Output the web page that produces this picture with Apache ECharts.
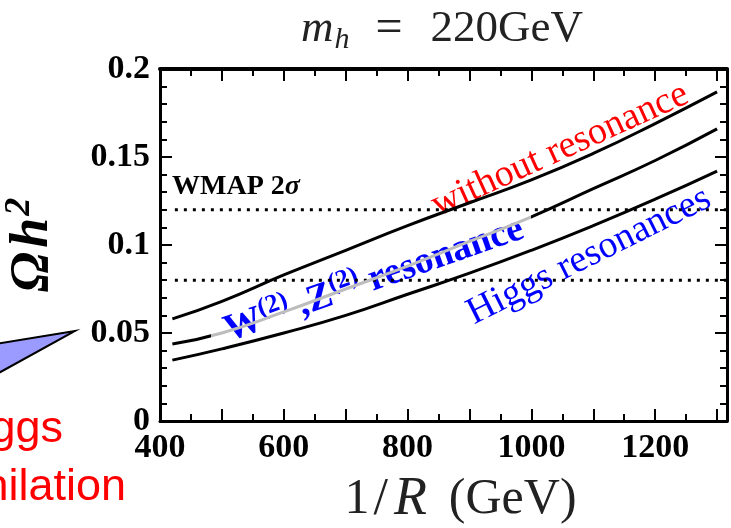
<!DOCTYPE html>
<html>
<head>
<meta charset="utf-8">
<script src="https://cdn.jsdelivr.net/npm/echarts@6/dist/echarts.min.js"></script>
<style>html,body{margin:0;padding:0;background:#fff;}#c{width:731px;height:528px;}</style>
</head>
<body>
<div id="c"></div>
<script>
// ---- data ----
const xValues = [420, 500, 600, 700, 800, 900, 1000, 1100, 1200, 1300];
const withoutResonance = [0.058, 0.068, 0.083, 0.097, 0.111, 0.124, 0.137, 0.152, 0.169, 0.187];
const wzResonance = [0.0437, 0.050, 0.062, 0.075, 0.088, 0.102, 0.116, 0.132, 0.148, 0.166];
const higgsResonances = [0.0346, 0.041, 0.050, 0.060, 0.072, 0.084, 0.097, 0.111, 0.126, 0.142];
const wmapBounds = [0.08, 0.12];
const wmapRange = [424, 1316];
const xTickLabels = [400, 600, 800, 1000, 1200];
const yTickLabels = [0, 0.05, 0.1, 0.15, 0.2];

const serif = '"Liberation Serif", "DejaVu Serif", serif';
const sans = '"Liberation Sans", Arial, sans-serif';

function pairs(ys) { return xValues.map((x, i) => [x, ys[i]]); }

const chart = echarts.init(document.getElementById('c'), null, {renderer: 'canvas'});

const axisCommon = {
  type: 'value',
  axisLine: {show: true, onZero: false, lineStyle: {color: '#000', width: 3}},
  splitLine: {show: false},
  axisTick: {show: true, inside: true, length: 12, lineStyle: {color: '#000', width: 2}},
  minorTick: {show: true, length: 7, lineStyle: {color: '#000', width: 2}},
};

const option = {
  animation: false,
  backgroundColor: '#fff',
  title: {
    text: '{m|m}{s|h}{e|=}{r|220GeV}',
    left: 296, top: -2,
    textStyle: {
      fontWeight: 'normal',
      rich: {
        m: {fontFamily: serif, fontStyle: 'italic', fontWeight: 'normal', fontSize: 45, color: '#222'},
        s: {fontFamily: serif, fontStyle: 'italic', fontWeight: 'normal', fontSize: 30, color: '#222', padding: [22, 18, 0, 1]},
        e: {fontFamily: serif, fontWeight: 'normal', fontSize: 48, color: '#222', padding: [0, 28, 0, 8]},
        r: {fontFamily: serif, fontWeight: 'normal', fontSize: 45, color: '#222'}
      }
    }
  },
  grid: {left: 160, right: 4, top: 69, bottom: 107, containLabel: false, outerBoundsMode: 'none'},
  xAxis: [
    Object.assign({}, axisCommon, {
      position: 'bottom', min: 400, max: 1316, interval: 100,
      minorTick: Object.assign({}, axisCommon.minorTick, {splitNumber: 2}),
      axisLabel: {
        show: true, margin: 10, color: '#000', fontFamily: serif, fontWeight: 'bold', fontSize: 34,
        showMaxLabel: false,
        formatter: v => xTickLabels.indexOf(v) >= 0 ? String(v) : ''
      },
      name: '{o|1}{s|/}{i|R}{a|(GeV)}',
      nameLocation: 'middle', nameGap: 52,
      nameTextStyle: {
        rich: {
          o: {fontFamily: serif, fontSize: 50, color: '#222', padding: [0, 0, 0, 34]},
          s: {fontFamily: serif, fontSize: 52, color: '#222', padding: [0, 6, 0, 4]},
          i: {fontFamily: serif, fontSize: 54, fontStyle: 'italic', color: '#222', padding: [0, 22, 0, 0]},
          a: {fontFamily: serif, fontSize: 50, color: '#222'}
        }
      }
    }),
    Object.assign({}, axisCommon, {
      position: 'top', min: 400, max: 1316, interval: 100,
      axisLine: {show: true, onZero: false, lineStyle: {color: '#000', width: 4}},
      minorTick: Object.assign({}, axisCommon.minorTick, {splitNumber: 2}),
      axisLabel: {show: false}
    })
  ],
  yAxis: [
    Object.assign({}, axisCommon, {
      position: 'left', min: 0, max: 0.2, interval: 0.05,
      minorTick: Object.assign({}, axisCommon.minorTick, {splitNumber: 5}),
      axisLabel: {
        show: true, margin: 10, color: '#000', fontFamily: serif, fontWeight: 'bold', fontSize: 34,
        formatter: v => { const t = yTickLabels.find(y => Math.abs(y - v) < 1e-9); return t === undefined ? '' : String(t); }
      },
      name: '{o|Ω}{h|h}{p|2}',
      nameLocation: 'middle', nameGap: 96, nameRotate: 90,
      nameTextStyle: {
        rich: {
          o: {fontFamily: serif, fontSize: 54, fontStyle: 'italic', fontWeight: 'bold', color: '#000', padding: [0, 4, 0, 0]},
          h: {fontFamily: serif, fontSize: 54, fontStyle: 'italic', fontWeight: 'bold', color: '#000'},
          p: {fontFamily: serif, fontSize: 36, fontStyle: 'italic', fontWeight: 'bold', color: '#000', padding: [0, 0, 26, 2]}
        }
      }
    }),
    Object.assign({}, axisCommon, {
      position: 'right', min: 0, max: 0.2, interval: 0.05,
      minorTick: Object.assign({}, axisCommon.minorTick, {splitNumber: 5}),
      axisLabel: {show: false}
    })
  ],
  visualMap: [{
    show: false, type: 'piecewise', seriesIndex: 1, dimension: 0,
    pieces: [
      {lt: 482, color: '#000'},
      {gte: 482, lt: 1000, color: '#bdbdbd'},
      {gte: 1000, color: '#000'}
    ]
  }],
  series: [
    {name: 'without resonance', type: 'line', data: pairs(withoutResonance), smooth: true, symbol: 'none',
     lineStyle: {color: '#000', width: 3}, z: 3},
    {name: 'W(2), Z(2) resonance', type: 'line', data: pairs(wzResonance), smooth: true, symbol: 'none',
     lineStyle: {width: 3}, z: 3},
    {name: 'Higgs resonances', type: 'line', data: pairs(higgsResonances), smooth: true, symbol: 'none',
     lineStyle: {color: '#000', width: 3}, z: 3},
    {name: 'WMAP upper', type: 'line', data: [[wmapRange[0], wmapBounds[1]], [wmapRange[1], wmapBounds[1]]],
     symbol: 'none', lineStyle: {color: '#000', width: 3, type: [3, 6]}, z: 2},
    {name: 'WMAP lower', type: 'line', data: [[wmapRange[0], wmapBounds[0]], [wmapRange[1], wmapBounds[0]]],
     symbol: 'none', lineStyle: {color: '#000', width: 3, type: [3, 6]}, z: 2}
  ],
  graphic: [
    {type: 'polygon', shape: {points: [[75, 331], [-5, 344], [-5, 375]]},
     style: {fill: '#9b9bff', stroke: '#000', lineWidth: 2}, z: 10},
    {type: 'text', x: 63, y: 452, style: {text: 'Higgs', fill: '#ff0000', font: '45px ' + sans, align: 'right', verticalAlign: 'bottom'}},
    {type: 'text', x: 126, y: 510, style: {text: 'annihilation', fill: '#ff0000', font: '45px ' + sans, align: 'right', verticalAlign: 'bottom'}},
    {type: 'text', x: 172, y: 201, style: {text: '{b|WMAP 2}{s|σ}', align: 'left', verticalAlign: 'bottom',
      rich: {b: {font: 'bold 28px ' + serif, fill: '#000'}, s: {font: 'bold italic 28px ' + serif, fill: '#000'}}}},
    {type: 'text', x: 560, y: 150, rotation: 24.4 * Math.PI / 180,
     style: {text: 'without resonance', fill: '#ff0000', font: '38px ' + serif, align: 'center', verticalAlign: 'middle'}},
    {type: 'text', x: 589, y: 256, rotation: 26.5 * Math.PI / 180,
     style: {text: 'Higgs resonances', fill: '#0000ff', font: '38px ' + serif, align: 'center', verticalAlign: 'middle'}},
    {type: 'text', x: 374, y: 280, rotation: 19.3 * Math.PI / 180,
     style: {text: '{a|W}{p|(2)}{a| ,Z}{p|(2)}{a| resonance}', align: 'center', verticalAlign: 'middle',
      rich: {
        a: {font: 'bold 38px ' + serif, fill: '#0000ff'},
        p: {font: 'bold 26px ' + serif, fill: '#0000ff', padding: [0, 0, 20, 0]}
      }}}
  ]
};
chart.setOption(option);
</script>
</body>
</html>
